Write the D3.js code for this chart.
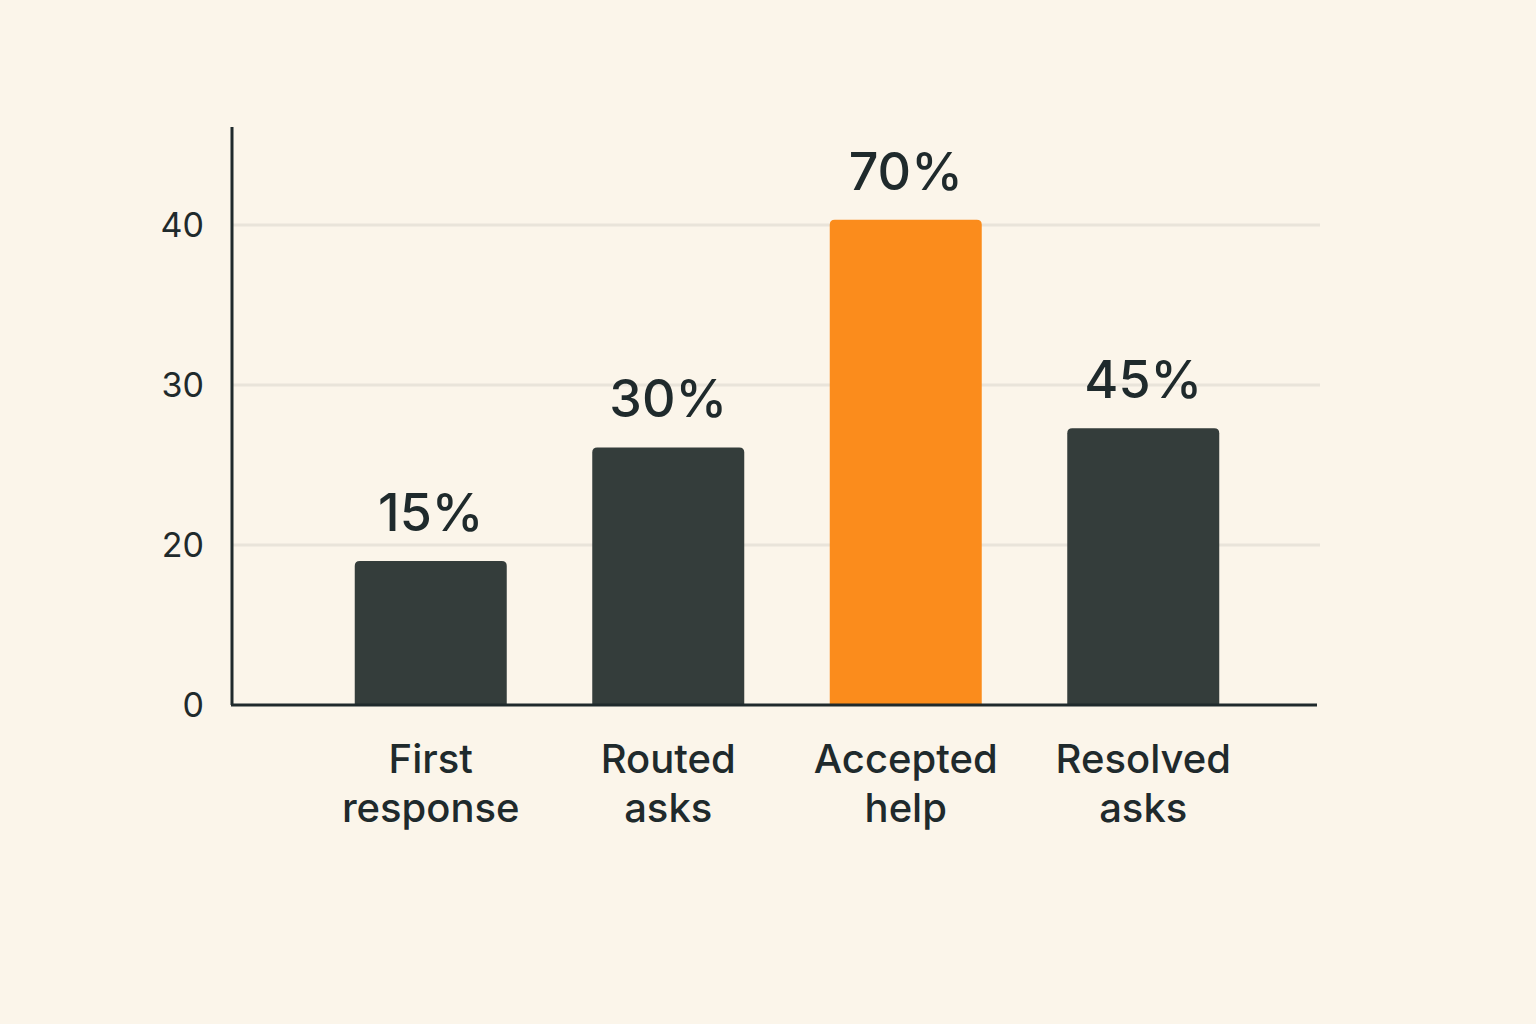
<!DOCTYPE html>
<html>
<head>
<meta charset="utf-8">
<script src="https://cdn.jsdelivr.net/npm/d3@7"></script>
<style>
  body { margin: 0; background: #fbf5ea; }
  text { font-family: "Inter", "Noto Sans", sans-serif; }
</style>
</head>
<body>
<div id="wrapper"></div>
<script>
const categories = [["First", "response"], ["Routed", "asks"], ["Accepted", "help"], ["Resolved", "asks"]]
const values = [18, 26.1, 40.3, 27.3]
const valueLabels = ["15%", "30%", "70%", "45%"]
const highlight = [false, false, true, false]
const yTicks = [0, 20, 30, 40]

const width = 1536, height = 1024

const svg = d3.select("#wrapper").append("svg")
  .attr("width", width).attr("height", height)

svg.append("rect").attr("width", width).attr("height", height).attr("fill", "#fbf5ea")

// uneven axis: 0-20 takes the same space as 20-30
const yScale = d3.scaleLinear()
  .domain([0, 20, 30, 40, 45.5])
  .range([705, 545, 385, 225, 127])

const xScale = d3.scaleBand()
  .domain(d3.range(categories.length))
  .range([312, 1262])
  .paddingInner(0.36)
  .paddingOuter(0.18)

// grid
svg.append("g").selectAll("line")
  .data(yTicks.filter(d => d > 0))
  .join("line")
    .attr("x1", 232).attr("x2", 1320)
    .attr("y1", d => yScale(d)).attr("y2", d => yScale(d))
    .attr("stroke", "#e9e4da").attr("stroke-width", 3)

// y labels
svg.append("g").selectAll("text")
  .data(yTicks)
  .join("text")
    .attr("x", 204)
    .attr("y", d => yScale(d) + 12)
    .attr("text-anchor", "end")
    .attr("font-size", 34)
    .attr("fill", "#1f2a2c")
    .text(d => d)

// bars
svg.append("g").selectAll("path")
  .data(values)
  .join("path")
    .attr("d", (d, i) => {
      const x0 = xScale(i), x1 = x0 + xScale.bandwidth()
      const y0 = yScale(d), y1 = yScale(0), r = 5
      return `M${x0},${y1}V${y0 + r}Q${x0},${y0} ${x0 + r},${y0}H${x1 - r}Q${x1},${y0} ${x1},${y0 + r}V${y1}Z`
    })
    .attr("fill", (d, i) => highlight[i] ? "#fb8c1c" : "#343d3b")

// value labels
svg.append("g").selectAll("text")
  .data(values)
  .join("text")
    .attr("x", (d, i) => xScale(i) + xScale.bandwidth() / 2)
    .attr("y", d => yScale(d) - 30)
    .attr("text-anchor", "middle")
    .attr("font-size", 52)
    .attr("font-weight", 500)
    .attr("fill", "#1f2a2c")
    .text((d, i) => valueLabels[i])

// axes lines
svg.append("line").attr("x1", 232).attr("x2", 232).attr("y1", 127).attr("y2", yScale(0))
  .attr("stroke", "#1f2a2c").attr("stroke-width", 3)
svg.append("line").attr("x1", 231).attr("x2", 1317).attr("y1", yScale(0)).attr("y2", yScale(0))
  .attr("stroke", "#1f2a2c").attr("stroke-width", 3)

// category labels
const cat = svg.append("g").selectAll("text")
  .data(categories)
  .join("text")
    .attr("text-anchor", "middle")
    .attr("font-size", 40)
    .attr("font-weight", 500)
    .attr("fill", "#1f2a2c")
cat.selectAll("tspan")
  .data((d, i) => d.map(t => ({ t, i })))
  .join("tspan")
    .attr("x", d => xScale(d.i) + xScale.bandwidth() / 2)
    .attr("y", (d, j) => 773 + j * 49)
    .text(d => d.t)
</script>
</body>
</html>
